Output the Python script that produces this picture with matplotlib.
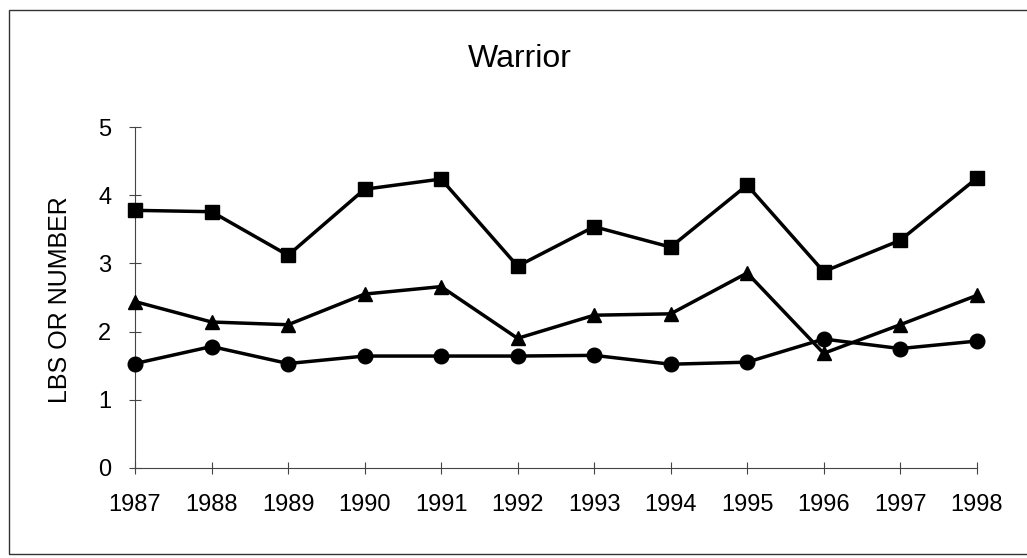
import matplotlib.pyplot as plt
from matplotlib.patches import Rectangle

years = [1987, 1988, 1989, 1990, 1991, 1992, 1993, 1994, 1995, 1996, 1997, 1998]
squares = [3.78, 3.76, 3.12, 4.09, 4.24, 2.96, 3.54, 3.24, 4.15, 2.88, 3.34, 4.25]
triangles = [2.44, 2.14, 2.10, 2.55, 2.66, 1.90, 2.24, 2.26, 2.86, 1.68, 2.10, 2.53]
circles = [1.53, 1.78, 1.53, 1.64, 1.64, 1.64, 1.65, 1.52, 1.55, 1.89, 1.75, 1.86]

plt.rcParams['font.family'] = ['Liberation Sans', 'DejaVu Sans']

fig = plt.figure(figsize=(10.27, 5.58), dpi=100)
ax = fig.add_axes([0.1315, 0.1618, 0.8195, 0.6101])

# frame around the whole chart
fig.patches.append(Rectangle((9 / 1027, 1 - 554 / 558), 1.1, (554 - 10) / 558,
                             transform=fig.transFigure, fill=False,
                             edgecolor="#333333", linewidth=1.0))

for y, m in [(squares, "s"), (triangles, "^"), (circles, "o")]:
    ax.plot(years, y, color="black", linewidth=2.5, marker=m,
            markersize=10.5, clip_on=False, zorder=3)

ax.set_xlim(1987, 1998)
ax.set_ylim(0, 5)
ax.set_xticks(years)
ax.set_yticks([0, 1, 2, 3, 4, 5])

ax.spines["top"].set_visible(False)
ax.spines["right"].set_visible(False)
for s in ["left", "bottom"]:
    ax.spines[s].set_linewidth(0.8)
    ax.spines[s].set_color("#444444")

ax.tick_params(axis="both", direction="inout", length=8, width=0.8,
               color="#444444", labelsize=17)
ax.tick_params(axis="x", pad=15)
ax.tick_params(axis="y", pad=13)

ax.set_ylabel("LBS OR NUMBER", fontsize=18)
ax.yaxis.set_label_coords(-0.0748, 0.494)
fig.text(0.506, 1 - 67 / 558, "Warrior", ha="center", va="baseline", fontsize=23)

fig.savefig("out.png", dpi=100)
